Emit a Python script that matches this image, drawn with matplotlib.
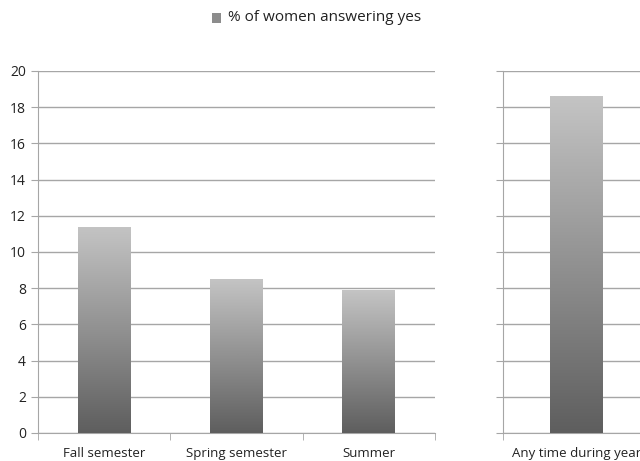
import numpy as np
import matplotlib.pyplot as plt
from matplotlib.colors import LinearSegmentedColormap

plt.rcParams['font.family'] = ['Open Sans', 'DejaVu Sans']

periods = ['Fall semester', 'Spring semester', 'Summer']
pct_yes = [11.4, 8.5, 7.9]
any_label = ['Any time during year']
any_pct = [18.6]
yticks = [0, 2, 4, 6, 8, 10, 12, 14, 16, 18, 20]

grad = LinearSegmentedColormap.from_list('g', ['#5e5e5e', '#c4c4c4'])
grid_c = '#a6a6a6'


def gradient_bars(ax, labels, values, width):
    x = np.arange(len(labels))
    bars = ax.bar(x, values, width, color='none', edgecolor='none', zorder=3)
    g = np.linspace(0, 1, 256).reshape(-1, 1)
    for b in bars:
        x0, w, h = b.get_x(), b.get_width(), b.get_height()
        im = ax.imshow(g, cmap=grad, origin='lower', aspect='auto',
                       extent=[x0, x0 + w, 0, h], zorder=3)
        im.set_clip_path(b)
    ax.set_xlim(-0.5, len(labels) - 0.5)
    ax.set_ylim(0, 20)
    ax.set_yticks(yticks)
    ax.yaxis.grid(True, color=grid_c, lw=1)
    ax.set_axisbelow(True)
    ax.set_xticks(x)
    ax.set_xticklabels(labels, fontsize=9.5, color='#222222')
    ax.set_xticks(np.arange(len(labels) + 1) - 0.5, minor=True)
    ax.tick_params(axis='x', which='major', length=0, pad=10)
    ax.tick_params(axis='x', which='minor', length=5, color=grid_c)
    ax.tick_params(axis='y', length=5, color=grid_c, labelsize=10, labelcolor='#222222')
    for s in ['top', 'right']:
        ax.spines[s].set_visible(False)
    for s in ['left', 'bottom']:
        ax.spines[s].set_color(grid_c)
    return bars


fig = plt.figure(figsize=(6.4, 4.61), dpi=100)
ax1 = fig.add_axes([0.059, 0.061, 0.621, 0.785])
ax2 = fig.add_axes([0.786, 0.061, 0.23, 0.785])

gradient_bars(ax1, periods, pct_yes, 0.4)
gradient_bars(ax2, any_label, any_pct, 0.36)
ax2.set_yticklabels([])

fig.text(0.356, 0.961, '% of women answering yes', ha='left', va='center',
         fontsize=11, color='#222222')
fig.patches.append(plt.Rectangle((0.331, 0.951), 0.014, 0.02, transform=fig.transFigure,
                                 facecolor='#8c8c8c', edgecolor='none'))

fig.savefig('out.png', dpi=100)
